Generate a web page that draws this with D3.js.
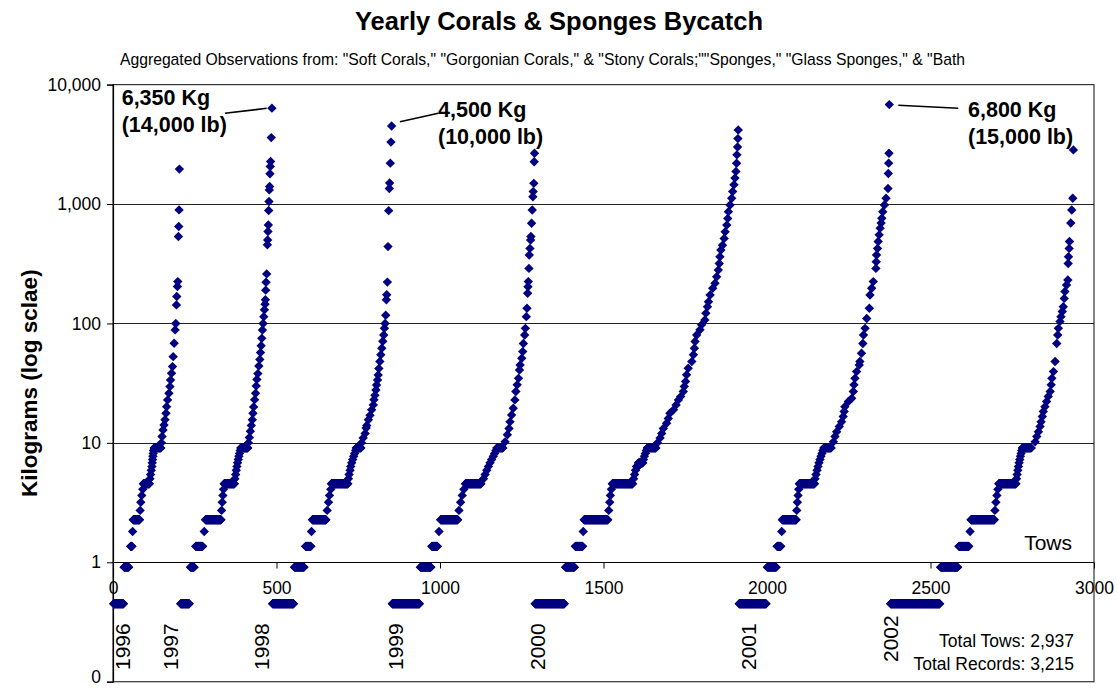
<!DOCTYPE html>
<html>
<head>
<meta charset="utf-8">
<script src="https://cdn.jsdelivr.net/npm/d3@7"></script>
<style>
  html, body { margin: 0; padding: 0; background: #fff; }
  svg { display: block; font-family: "Liberation Sans", Arial, sans-serif; }
</style>
</head>
<body>
<svg id="chart" width="1117" height="688"></svg>
<script>
// ---------- DATA (tow index, kg); runs are [firstTow, lastTow, kg], single tows are [tow, kg] ----------
const y1996 = [[2,32,0.45],[34,48,0.91],[54,58,1.36],[60,1.81],[62,81,2.27],[83,2.72],[85,3.18],[88,3.63],[91,4.08],
  [93,111,4.54],[113,5.0],[115,5.44],[117,5.9],[119,6.35],[120,6.8],[121,7.26],[122,7.71],[123,8.16],[124,8.62],
  [126,146,9.07],[148,10.0],[150,11.3],[153,12.8],[156,14.1],[159,15.6],[162,17.7],[164,20.1],[167,22.9],[171,26.0],
  [174,29.6],[176,33.6],[179,38.3],[182,43.5],[184,52.7],[187,68.3],[190,88.3],[192,100],[194,143],[195,168],
  [197,204],[198,224],[200,534],[201,648],[202,893],[203,1960]];
const y1997 = [[207,233,0.45],[237,248,0.91],[253,274,1.36],[279,1.81],[283,330,2.27],[332,2.72],[334,3.18],[336,3.63],
  [338,4.08],[340,371,4.54],[373,5.0],[375,5.44],[377,5.9],[379,6.35],[381,6.8],[383,7.26],[385,7.71],[387,8.16],
  [389,8.62],[391,412,9.07],[414,10],[417,11.1],[420,12.5],[423,14],[426,15.6],[428,17.7],[430,20],[433,23],[436,26],
  [438,30],[440,34],[443,38],[446,44],[449,50],[451,57],[453,65],[455,75],[457,88],[459,100],[461,114],[463,130],
  [465,145],[466,158],[467,190],[468,221],[470,260],[472,455],[473,500],[474,588],[475,668],[476,882],[477,1050],
  [478,1313],[479,1400],[480,1790],[481,2060],[482,2270],[484,3600],[486,6350]];
const y1998 = [[488,552,0.45],[555,584,0.91],[589,605,1.36],[607,1.81],[610,651,2.27],[655,2.72],[659,3.18],[662,3.63],
  [666,4.08],[668,718,4.54],[720,5.0],[722,5.44],[725,5.9],[727,6.35],[730,6.8],[733,7.26],[736,7.71],[739,8.16],
  [742,8.62],[744,758,9.07],[760,10],[765,11],[771,12],[774,13.3],[776,14],[781,15.6],[786,17],[791,18.9],[796,20.8],
  [798,23],[801,25],[804,27.7],[806,30.5],[809,33.6],[811,37],[813,42],[816,48],[819,54.6],[822,62],[825,71],[828,80],
  [830,91],[832,100],[834,117],[836,158],[837,174],[839,222],[841,440],[843,880],[845,1350],[846,1500],[848,2200],
  [850,3300],[852,4500]];
const y1999 = [[854,937,0.45],[940,972,0.91],[975,992,1.36],[997,1.81],[1002,1054,2.27],[1058,2.72],[1063,3.18],
  [1068,3.63],[1073,4.08],[1078,1125,4.54],[1133,5.0],[1138,5.44],[1143,5.9],[1148,6.35],[1153,6.8],[1158,7.26],
  [1163,7.71],[1167,8.16],[1171,8.62],[1174,1192,9.07],[1199,10.2],[1206,11.7],[1211,13.2],[1214,15],[1219,17.1],
  [1224,19.5],[1229,22.9],[1232,26.9],[1236,30.6],[1240,34.7],[1243,40.8],[1245,44.9],[1250,51.1],[1253,58.1],
  [1255,68],[1259,80],[1261,91],[1264,114],[1266,134],[1268,179],[1269,203],[1270,224],[1272,289],[1273,374],
  [1275,425],[1277,500],[1278,535],[1280,690],[1282,890],[1284,1150],[1285,1270],[1287,1490],[1288,2260],[1289,2660]];
const y2000 = [[1291,1380,0.45],[1384,1411,0.91],[1414,1436,1.36],[1438,1.81],[1441,1513,2.27],[1516,2.72],[1519,3.18],
  [1521,3.63],[1524,4.08],[1527,1589,4.54],[1592,5.0],[1595,5.44],[1598,5.9],[1601,1606,6.35],[1607,1620,6.8],
  [1622,7.26],[1625,7.71],[1628,8.16],[1631,8.62],[1634,1660,9.07],[1665,10],[1673,11],[1678,12],[1683,13.2],
  [1693,14.6],[1698,16],[1703,17.7],[1714,18.9],[1722,20.8],[1729,22.9],[1736,24.4],[1744,26.9],[1747,29.7],
  [1751,32.7],[1754,37.1],[1759,42.2],[1770,48],[1775,54.6],[1778,62],[1780,70.6],[1785,80],[1795,88.5],[1800,97.4],
  [1810,107],[1813,122],[1818,138],[1821,152],[1826,173],[1834,197],[1841,217],[1846,246],[1851,280],[1854,318],
  [1856,362],[1859,412],[1864,452],[1869,514],[1872,585],[1877,666],[1880,758],[1882,863],[1887,982],[1892,1118],
  [1895,1273],[1899,1448],[1902,1648],[1905,1876],[1907,2196],[1908,2580],[1910,3000],[1911,3530],[1912,4170]];
const y2001 = [[1915,1997,0.45],[2001,2028,0.91],[2031,2042,1.36],[2045,1.81],[2047,2089,2.27],[2091,2.72],[2093,3.18],
  [2095,3.63],[2097,4.08],[2099,2145,4.54],[2147,5.0],[2150,5.44],[2153,5.9],[2156,6.35],[2159,6.8],[2162,7.26],
  [2165,7.71],[2168,8.16],[2171,8.62],[2174,2196,9.07],[2203,10.2],[2208,11.3],[2213,12.4],[2221,13.7],[2228,15],
  [2233,16.6],[2236,18.3],[2238,20.1],[2249,22.2],[2259,23.6],[2264,26.9],[2266,30.6],[2269,34.7],[2274,39.5],
  [2282,44.9],[2284,48],[2289,56.3],[2293,68],[2295,80],[2300,91],[2305,110],[2313,134],[2315,173],[2320,197],
  [2325,224],[2333,289],[2334,329],[2335,374],[2338,425],[2340,485],[2343,552],[2346,628],[2349,693],[2351,760],
  [2354,862],[2359,982],[2364,1118],[2370,1350],[2371,1800],[2372,2200],[2373,2660],[2374,6800]];
const y2002 = [[2378,2528,0.45],[2531,2583,0.91],[2587,2617,1.36],[2621,1.81],[2624,2695,2.27],[2697,2.72],[2700,3.18],
  [2703,3.63],[2706,4.08],[2709,2761,4.54],[2763,5.0],[2765,5.44],[2767,5.9],[2769,6.35],[2771,6.8],[2773,7.26],
  [2775,7.71],[2777,8.16],[2779,8.62],[2781,2808,9.07],[2820,10.2],[2825,11.3],[2830,12.4],[2835,13.7],[2838,15],
  [2842,16.6],[2845,18.3],[2850,20.1],[2855,22.2],[2860,24.5],[2866,26.9],[2869,30.6],[2871,34.7],[2876,39.5],
  [2881,48],[2886,68],[2889,80],[2891,91],[2896,104],[2899,114],[2903,126],[2906,138],[2909,162],[2911,185],
  [2916,210],[2920,231],[2921,318],[2922,362],[2924,425],[2925,485],[2929,693],[2932,890],[2935,1118],[2937,2840]];

const yearSeries = [y1996, y1997, y1998, y1999, y2000, y2001, y2002];
const yearNames = ["1996","1997","1998","1999","2000","2001","2002"];
const yearLabelTow = [30, 177, 453, 865, 1297, 1942, 2379];

const xTicks = [0, 500, 1000, 1500, 2000, 2500, 3000];
const yTicks = [0.1, 1, 10, 100, 1000, 10000];
const yTickLabels = ["0", "1", "10", "100", "1,000", "10,000"];
const gridValues = [1, 10, 100, 1000];

const callouts = [
  { tow: 486,  kg: 6350, lines: ["6,350 Kg", "(14,000 lb)"] },
  { tow: 852,  kg: 4500, lines: ["4,500 Kg", "(10,000 lb)"] },
  { tow: 2374, kg: 6800, lines: ["6,800 Kg", "(15,000 lb)"] }
];

const titleText = "Yearly Corals & Sponges Bycatch";
const subtitleText = 'Aggregated Observations from: "Soft Corals," "Gorgonian Corals," & "Stony Corals;""Sponges," "Glass Sponges," & "Bath';
const yAxisTitle = "Kilograms  (log sclae)";
const xAxisTitle = "Tows";
const totals = ["Total Tows: 2,937", "Total Records: 3,215"];

// ---------- LAYOUT ----------
const svg = d3.select("#chart");
const L = 113, R = 1094, T = 84.6, B = 681.7;
const x = d3.scaleLinear().domain([0, 3000]).range([L, R]);
const y = d3.scaleLog().domain([0.1, 10000]).range([B, T]);
const navy = "#000080";

// plot frame
svg.append("rect").attr("x", L).attr("y", T).attr("width", R - L).attr("height", B - T)
  .attr("fill", "none").attr("stroke", "#333").attr("stroke-width", 1.2);

// gridlines
svg.append("g").selectAll("line").data(gridValues).join("line")
  .attr("x1", L).attr("x2", R)
  .attr("y1", d => Math.round(y(d)) + 0.5).attr("y2", d => Math.round(y(d)) + 0.5)
  .attr("stroke", d => d === 1 ? "#000" : "#222").attr("stroke-width", 1);

// Y axis
const yAxis = d3.axisLeft(y).tickValues(yTicks).tickSize(6).tickPadding(6)
  .tickFormat((d, i) => yTickLabels[i]);
const gy = svg.append("g").attr("transform", `translate(${L},0)`).call(yAxis);
gy.select(".domain").attr("stroke", "#000").attr("stroke-width", 1.2);
gy.selectAll(".tick line").attr("stroke", "#000");
gy.selectAll(".tick text").attr("font-size", "17.5px").attr("fill", "#000")
  .attr("font-family", "Liberation Sans, Arial, sans-serif")
  .attr("dy", d => d === 0.1 ? "0.05em" : "0.32em");

// X axis along the value-1 line
const xAxis = d3.axisBottom(x).tickValues(xTicks).tickSize(6).tickPadding(13).tickFormat(d3.format("d"));
const gx = svg.append("g").attr("transform", `translate(0,${Math.round(y(1)) + 0.5})`).call(xAxis);
gx.select(".domain").remove();
gx.selectAll(".tick line").attr("stroke", "#000");
gx.selectAll(".tick text").attr("font-size", "17.5px").attr("fill", "#000")
  .attr("font-family", "Liberation Sans, Arial, sans-serif");

// points
const pts = [];
yearSeries.forEach(arr => arr.forEach(r => {
  if (r.length === 2) pts.push([r[0], r[1]]);
  else for (let t = r[0]; t <= r[1]; t++) pts.push([t, r[2]]);
}));
const h = 4.7;
const dmd = `M0,${-h}L${h},0L0,${h}L${-h},0Z`;
svg.append("g").selectAll("path").data(pts).join("path")
  .attr("d", dmd)
  .attr("transform", d => `translate(${x(d[0])},${y(d[1])})`)
  .attr("fill", navy);

// title & subtitle (fitted to measured widths)
function fit(sel, width) {
  const len = sel.node().getComputedTextLength();
  const fs = parseFloat(sel.attr("font-size"));
  sel.attr("font-size", (fs * width / len).toFixed(2) + "px");
}
const title = svg.append("text").attr("x", 559).attr("y", 30).attr("text-anchor", "middle")
  .attr("font-weight", "bold").attr("font-size", "25px").text(titleText);
fit(title, 408);
const sub = svg.append("text").attr("x", 542.5).attr("y", 65).attr("text-anchor", "middle")
  .attr("font-size", "14px").text(subtitleText);
fit(sub, 845);

// Y axis title
svg.append("text").attr("transform", `translate(37,${(T + B) / 2}) rotate(-90)`)
  .attr("text-anchor", "middle").attr("font-weight", "bold").attr("font-size", "22.5px")
  .text(yAxisTitle);

// "Tows"
svg.append("text").attr("x", 1072).attr("y", 550).attr("text-anchor", "end")
  .attr("font-size", "21px").text(xAxisTitle);

// totals
svg.append("g").selectAll("text").data(totals).join("text")
  .attr("x", 1074).attr("y", (d, i) => 647 + i * 23).attr("text-anchor", "end")
  .attr("font-size", "17.5px").text(d => d);

// year labels (vertical)
svg.append("g").selectAll("text").data(yearNames).join("text")
  .attr("transform", (d, i) => `translate(${x(yearLabelTow[i]) + 7.5},${i === 6 ? 662 : 670}) rotate(-90)`)
  .attr("font-size", "21px").text(d => d);

// callouts
const calloutX = [121.7, 438, 968];
const calloutBase = [105, 116.7, 116.7];
const leaderEnds = [[225, 113.3, 266.7, 108.3], [400, 121.7, 438.3, 113.3], [898.3, 105.3, 958.3, 108.3]];
callouts.forEach((c, i) => {
  const le = leaderEnds[i];
  svg.append("line").attr("x1", le[0]).attr("y1", le[1]).attr("x2", le[2]).attr("y2", le[3])
    .attr("stroke", "#000").attr("stroke-width", 1.6);
  const t = svg.append("text").attr("font-weight", "bold").attr("font-size", "21.5px");
  c.lines.forEach((ln, j) => {
    t.append("tspan").attr("x", calloutX[i]).attr("y", calloutBase[i] + j * 27).text(ln);
  });
});
</script>
</body>
</html>
